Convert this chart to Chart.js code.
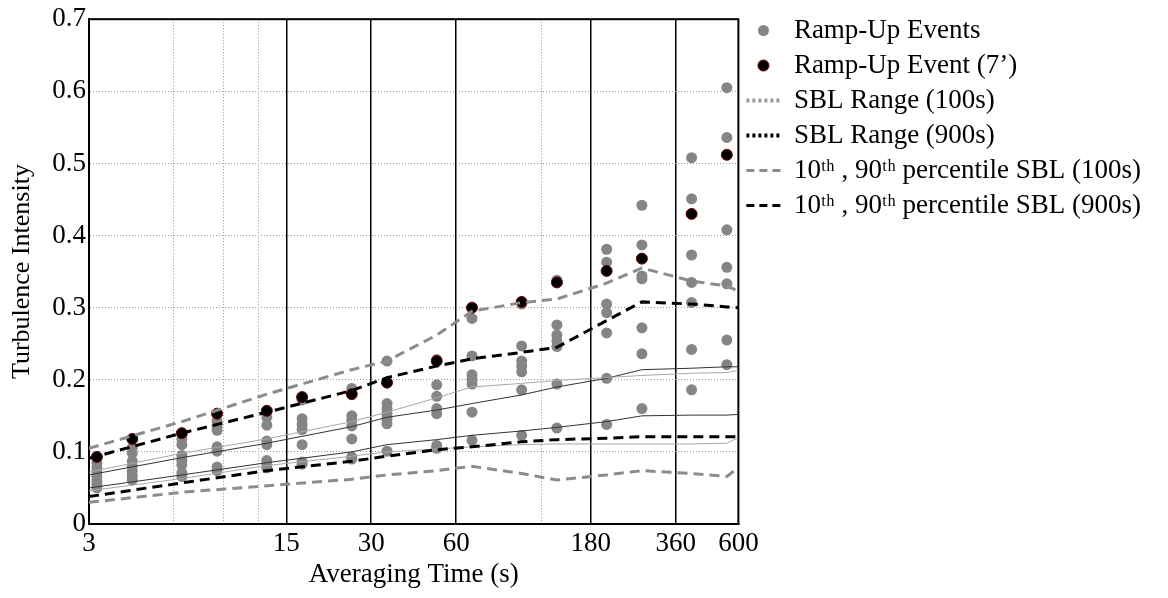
<!DOCTYPE html>
<html>
<head>
<meta charset="utf-8">
<script src="https://cdn.jsdelivr.net/npm/chart.js@4.4.0/dist/chart.umd.min.js"></script>
<style>
  html, body { margin: 0; padding: 0; background: #fff; }
</style>
</head>
<body>
<canvas id="chart" width="1168" height="598"></canvas>
<script>
// averaging times of the ramp-up columns (s)
const colTimes = [3.2, 4.27, 6.4, 8.53, 12.8, 17.07, 25.6, 34.13, 51.2, 68.27, 102.4, 136.5, 204.8, 273.1, 409.6, 546.1];

// grey ramp-up events, one row per averaging time
const rampUpEvents = [
    [0.085, 0.078, 0.072, 0.066, 0.060, 0.055, 0.050],
    [0.106, 0.098, 0.087, 0.080, 0.073, 0.067, 0.061],
    [0.118, 0.110, 0.095, 0.088, 0.082, 0.071, 0.066],
    [0.143, 0.136, 0.130, 0.107, 0.101, 0.079, 0.074],
    [0.148, 0.137, 0.115, 0.110, 0.088, 0.082, 0.078],
    [0.172, 0.146, 0.138, 0.131, 0.110, 0.086, 0.083],
    [0.188, 0.150, 0.144, 0.136, 0.118, 0.093, 0.090],
    [0.226, 0.167, 0.160, 0.153, 0.146, 0.139, 0.101],
    [0.228, 0.193, 0.177, 0.160, 0.153, 0.109, 0.105],
    [0.285, 0.233, 0.207, 0.200, 0.194, 0.155, 0.116],
    [0.305, 0.247, 0.226, 0.219, 0.211, 0.186, 0.123],
    [0.338, 0.276, 0.262, 0.254, 0.246, 0.194, 0.133],
    [0.381, 0.363, 0.305, 0.293, 0.265, 0.202, 0.138],
    [0.442, 0.387, 0.344, 0.340, 0.272, 0.236, 0.160],
    [0.508, 0.451, 0.373, 0.335, 0.307, 0.242, 0.186],
    [0.605, 0.536, 0.408, 0.356, 0.333, 0.255, 0.221]
];

// the 7th event, drawn in black
const rampUpEvent7 = [0.093, 0.118, 0.126, 0.153, 0.157, 0.176, 0.180, 0.196, 0.226, 0.300, 0.308, 0.335, 0.351, 0.368, 0.430, 0.512];

// SBL curves
const lineTimes = [3, 6.4, 12.8, 25.6, 34.13, 51.2, 68.27, 102.4, 136.5, 204.8, 273.1, 409.6, 546.1, 600];
const p90Sbl100 = [0.105, 0.142, 0.180, 0.214, 0.226, 0.262, 0.295, 0.307, 0.312, 0.334, 0.355, 0.337, 0.330, 0.323];
const p10Sbl100 = [0.030, 0.044, 0.053, 0.062, 0.068, 0.074, 0.080, 0.070, 0.061, 0.068, 0.074, 0.070, 0.066, 0.078];
const p90Sbl900 = [0.091, 0.126, 0.155, 0.185, 0.203, 0.219, 0.229, 0.238, 0.245, 0.282, 0.308, 0.305, 0.301, 0.300];
const p10Sbl900 = [0.038, 0.057, 0.074, 0.087, 0.094, 0.103, 0.107, 0.114, 0.117, 0.119, 0.121, 0.121, 0.121, 0.121];
const rangeMax100 = [0.072, 0.098, 0.118, 0.142, 0.155, 0.175, 0.190, 0.195, 0.199, 0.203, 0.206, 0.209, 0.210, 0.213];
const rangeMin100 = [0.046, 0.063, 0.081, 0.094, 0.100, 0.104, 0.107, 0.110, 0.111, 0.111, 0.111, 0.111, 0.112, 0.120];
const rangeMax900 = [0.068, 0.092, 0.112, 0.135, 0.148, 0.158, 0.167, 0.179, 0.190, 0.202, 0.214, 0.216, 0.218, 0.218];
const rangeMin900 = [0.050, 0.068, 0.085, 0.100, 0.110, 0.117, 0.123, 0.129, 0.134, 0.142, 0.150, 0.151, 0.151, 0.152];

// axes
const xMajorTicks = [3, 15, 30, 60, 180, 360, 600];
const xMinorTicks = [6, 9, 12, 120];
const yTicks = [0, 0.1, 0.2, 0.3, 0.4, 0.5, 0.6, 0.7];
const yTickLabels = ['0', '0.1', '0.2', '0.3', '0.4', '0.5', '0.6', '0.7'];

const FONT = 'Liberation Serif, Times New Roman, serif';
const GREY = '#858585';
const DASH_GREY = '#8c8c8c';

function toPoints(xs, ys) {
    return xs.map((x, i) => ({ x: x, y: ys[i] }));
}

function lineSet(label, values, color, width, dash) {
    return {
        label: label,
        data: toPoints(lineTimes, values),
        showLine: true,
        borderColor: color,
        borderWidth: width,
        borderDash: dash,
        pointRadius: 0,
        fill: false,
        tension: 0
    };
}

function dotImage(fill, edge, r) {
    const c = document.createElement('canvas');
    const s = Math.ceil(r * 2 + 2);
    c.width = s;
    c.height = s;
    const g = c.getContext('2d');
    g.beginPath();
    g.arc(s / 2, s / 2, r, 0, Math.PI * 2);
    g.fillStyle = fill;
    g.fill();
    if (edge) {
        g.strokeStyle = edge;
        g.lineWidth = 1;
        g.stroke();
    }
    return c;
}

const greyPoints = [];
colTimes.forEach((t, i) => {
    rampUpEvents[i].forEach(v => greyPoints.push({ x: t, y: v }));
});

const datasets = [
    lineSet('p90 100s', p90Sbl100, DASH_GREY, 3, [10, 6]),
    lineSet('p10 100s', p10Sbl100, DASH_GREY, 3, [10, 6]),
    lineSet('p90 900s', p90Sbl900, '#000', 3, [10, 6]),
    lineSet('p10 900s', p10Sbl900, '#000', 3, [10, 6]),
    lineSet('max 100s', rangeMax100, '#a8a8a8', 1, []),
    lineSet('min 100s', rangeMin100, '#a8a8a8', 1, []),
    lineSet('max 900s', rangeMax900, '#333', 1, []),
    lineSet('min 900s', rangeMin900, '#333', 1, []),
    {
        label: 'Ramp-Up Event (7’)',
        data: toPoints(colTimes, rampUpEvent7),
        pointRadius: 5.5,
        pointBackgroundColor: '#000',
        pointBorderColor: '#6b0000',
        pointBorderWidth: 1
    },
    {
        label: 'Ramp-Up Events',
        data: greyPoints,
        pointRadius: 5.5,
        pointBackgroundColor: GREY,
        pointBorderWidth: 0
    }
];

const legendItems = [
    { text: 'Ramp-Up Events', pointStyle: dotImage(GREY, null, 5.5), fontColor: '#000', lineWidth: 0, hidden: false, datasetIndex: 9 },
    { text: 'Ramp-Up Event (7’)', pointStyle: dotImage('#000', '#6b0000', 5.5), fontColor: '#000', lineWidth: 0, hidden: false, datasetIndex: 8 },
    { text: 'SBL Range (100s)', pointStyle: 'line', strokeStyle: '#999', lineWidth: 4, lineDash: [3, 3], fontColor: '#000', hidden: false, datasetIndex: 4 },
    { text: 'SBL Range (900s)', pointStyle: 'line', strokeStyle: '#000', lineWidth: 4, lineDash: [3, 3], fontColor: '#000', hidden: false, datasetIndex: 6 },
    { text: '10ᵗʰ , 90ᵗʰ percentile SBL (100s)', pointStyle: 'line', strokeStyle: DASH_GREY, lineWidth: 3, lineDash: [8, 5], fontColor: '#000', hidden: false, datasetIndex: 0 },
    { text: '10ᵗʰ , 90ᵗʰ percentile SBL (900s)', pointStyle: 'line', strokeStyle: '#000', lineWidth: 3, lineDash: [8, 5], fontColor: '#000', hidden: false, datasetIndex: 2 }
];

// black box round the plot area
const framePlugin = {
    id: 'frame',
    beforeDatasetsDraw(chart) {
        const { ctx, chartArea: a } = chart;
        ctx.save();
        ctx.strokeStyle = '#000';
        ctx.lineWidth = 2;
        ctx.strokeRect(a.left, a.top, a.right - a.left, a.bottom - a.top);
        ctx.restore();
    }
};

const transparent = 'rgba(0,0,0,0)';

new Chart(document.getElementById('chart'), {
    type: 'scatter',
    data: { datasets: datasets },
    plugins: [framePlugin],
    options: {
        responsive: false,
        animation: false,
        events: [],
        layout: { padding: { top: 9, right: 17, bottom: 0, left: 0 } },
        plugins: {
            tooltip: { enabled: false },
            legend: {
                position: 'right',
                align: 'start',
                maxWidth: 600,
                labels: {
                    usePointStyle: true,
                    pointStyleWidth: 34,
                    padding: 8,
                    color: '#000',
                    font: { family: FONT, size: 27 },
                    generateLabels: () => legendItems
                }
            }
        },
        scales: {
            x: {
                type: 'logarithmic',
                min: 3,
                max: 600,
                position: 'bottom',
                afterBuildTicks: s => { s.ticks = xMajorTicks.map(v => ({ value: v })); },
                afterFit: s => { s.height = 74; },
                ticks: {
                    autoSkip: false,
                    maxRotation: 0,
                    padding: 4,
                    color: '#000',
                    font: { family: FONT, size: 27 },
                    callback: v => String(v)
                },
                grid: {
                    color: c => (c.tick && (c.tick.value === 3 || c.tick.value === 600)) ? transparent : '#000',
                    lineWidth: 1.5,
                    drawTicks: false
                },
                border: { color: '#000', width: 2 },
                title: {
                    display: true,
                    text: 'Averaging Time (s)',
                    color: '#000',
                    font: { family: FONT, size: 27 },
                    padding: { top: 0, bottom: 7 }
                }
            },
            xMinor: {
                type: 'logarithmic',
                min: 3,
                max: 600,
                position: 'bottom',
                afterBuildTicks: s => { s.ticks = xMinorTicks.map(v => ({ value: v })); },
                afterFit: s => { s.height = 0; },
                ticks: { display: false },
                grid: { color: '#9a9a9a', lineWidth: 1, drawTicks: false },
                border: { display: false, dash: [1, 2] }
            },
            y: {
                type: 'linear',
                min: 0,
                max: 0.7,
                afterBuildTicks: s => { s.ticks = yTicks.map(v => ({ value: v })); },
                afterFit: s => { s.width = 89; },
                ticks: {
                    padding: 3,
                    color: '#000',
                    font: { family: FONT, size: 27 },
                    callback: (v, i) => yTickLabels[i]
                },
                grid: {
                    color: c => (c.tick && (c.tick.value === 0 || c.tick.value === 0.7)) ? transparent : '#9a9a9a',
                    lineWidth: 1,
                    drawTicks: false
                },
                border: { color: '#000', width: 2, dash: [1, 2] },
                title: {
                    display: true,
                    text: 'Turbulence Intensity',
                    color: '#000',
                    font: { family: FONT, size: 26 },
                    padding: { top: 7, bottom: 0 }
                }
            }
        }
    }
});
</script>
</body>
</html>
